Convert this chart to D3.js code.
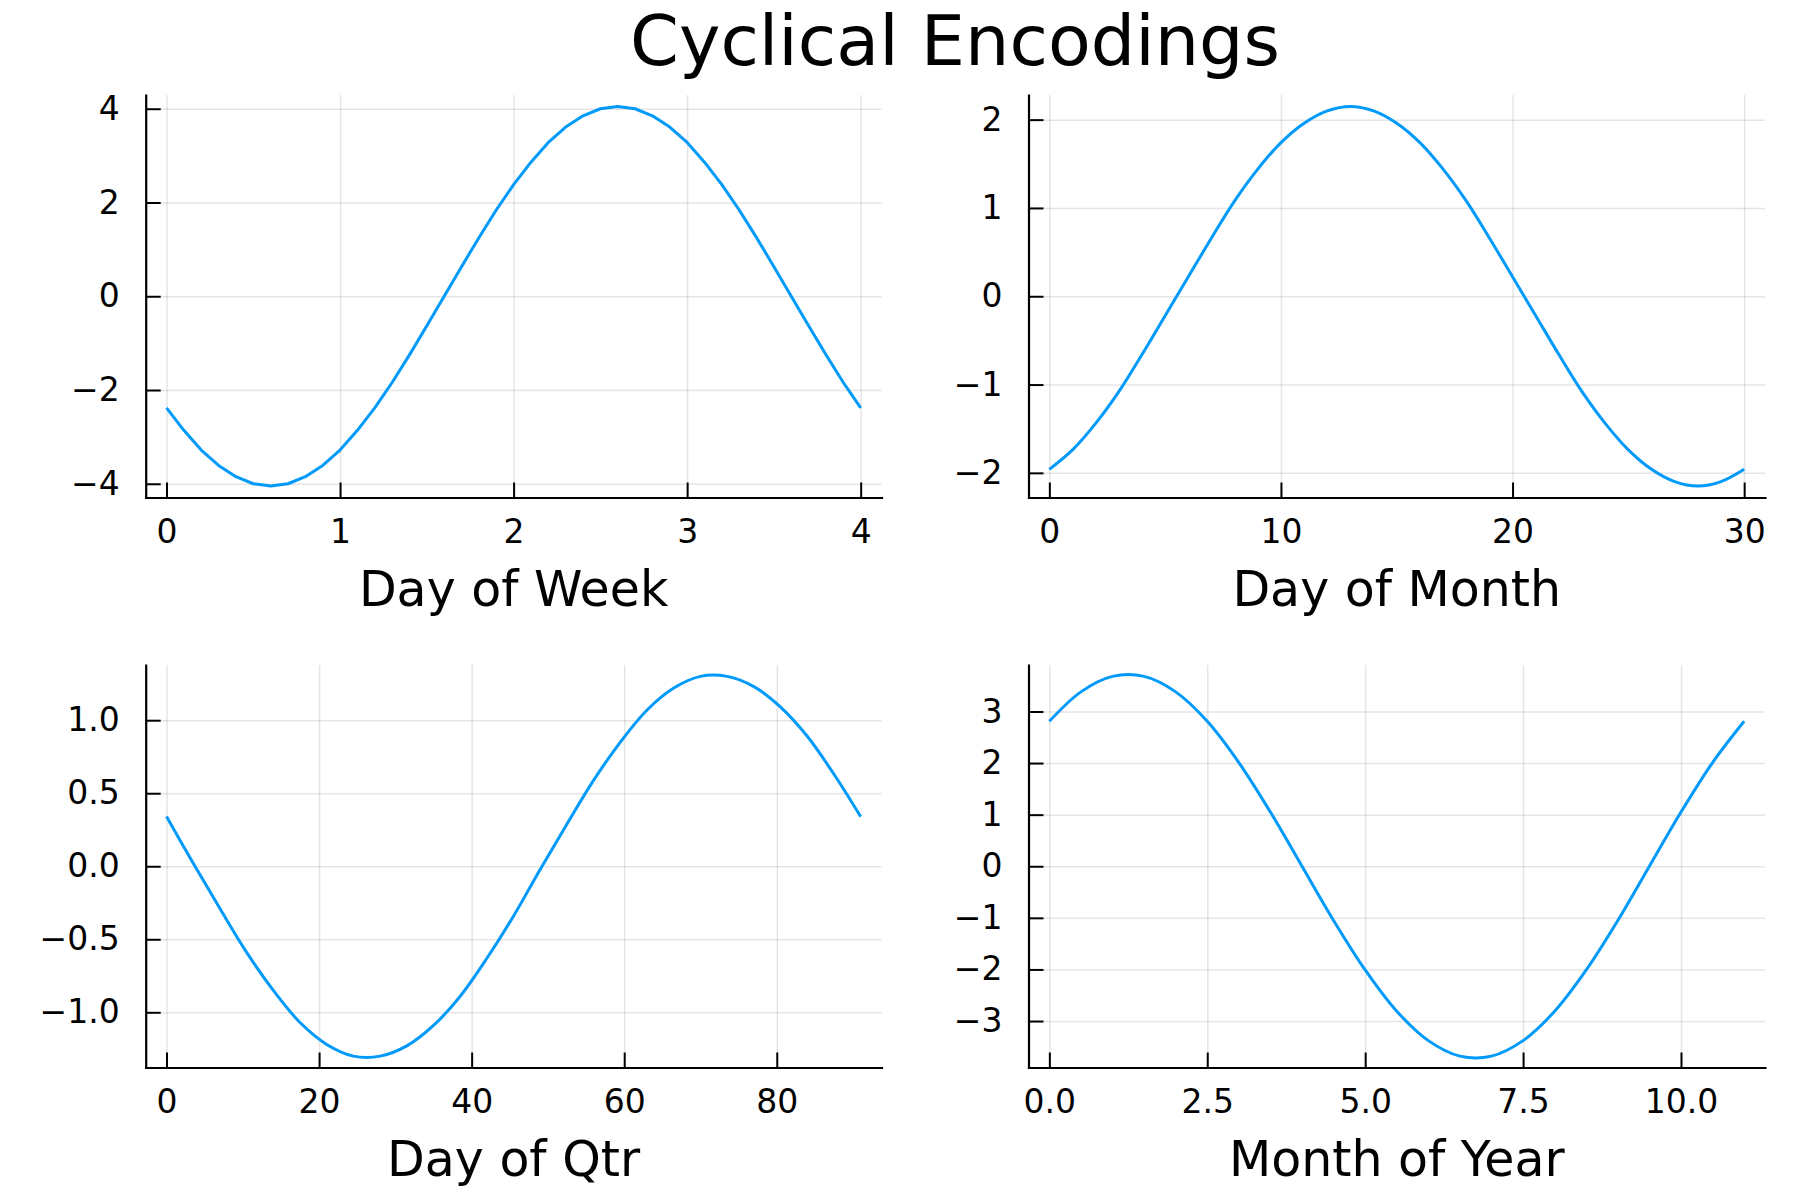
<!DOCTYPE html>
<html>
<head>
<meta charset="utf-8">
<script src="https://cdn.jsdelivr.net/npm/d3@7"></script>
<style>
  body { margin: 0; background: #fff; }
  text { font-family: "DejaVu Sans", sans-serif; fill: #000; }
</style>
</head>
<body>
<svg id="chart"></svg>
<script>
// values
const weekX = [0, 0.1, 0.2, 0.3, 0.4, 0.5, 0.6, 0.7, 0.8, 0.9, 1.0, 1.1, 1.2, 1.3, 1.4, 1.5, 1.6, 1.7, 1.8, 1.9, 2.0,
  2.1, 2.2, 2.3, 2.4, 2.5, 2.6, 2.7, 2.8, 2.9, 3.0, 3.1, 3.2, 3.3, 3.4, 3.5, 3.6, 3.7, 3.8, 3.9, 4.0];
const weekY = [-2.38, -2.86, -3.28, -3.61, -3.85, -4.00, -4.05, -4.00, -3.85, -3.61, -3.28, -2.86, -2.38, -1.84, -1.25, -0.63, 0,
  0.63, 1.25, 1.84, 2.38, 2.86, 3.28, 3.61, 3.85, 4.00, 4.05, 4.00, 3.85, 3.61, 3.28, 2.86, 2.38, 1.84, 1.25, 0.63, 0,
  -0.63, -1.25, -1.84, -2.38];

const monthX = [0, 1, 2, 3, 4, 5, 6, 7, 8, 9, 10, 11, 12, 13, 14, 15, 16, 17, 18, 19, 20, 21, 22, 23, 24, 25, 26, 27, 28, 29, 30];
const monthY = [-1.96, -1.74, -1.44, -1.08, -0.66, -0.22, 0.22, 0.66, 1.08, 1.44, 1.74, 1.96, 2.10, 2.15, 2.10, 1.96,
  1.74, 1.44, 1.08, 0.66, 0.22, -0.22, -0.66, -1.08, -1.44, -1.74, -1.96, -2.10, -2.15, -2.10, -1.96];

const qtrX = [0, 3.5, 7, 10.5, 14, 17.5, 21, 24.5, 28, 31.5, 35, 38.5, 42, 45.5, 49, 52.5, 56, 59.5, 63, 66.5, 70,
  73.5, 77, 80.5, 84, 87.5, 91];
const qtrY = [0.34, 0.02, -0.29, -0.59, -0.85, -1.07, -1.22, -1.30, -1.30, -1.23, -1.09, -0.89, -0.63, -0.34, -0.02,
  0.29, 0.59, 0.85, 1.07, 1.22, 1.30, 1.30, 1.23, 1.09, 0.89, 0.63, 0.34];

const yearX = [0, 0.5, 1, 1.5, 2, 2.5, 3, 3.5, 4, 4.5, 5, 5.5, 6, 6.5, 7, 7.5, 8, 8.5, 9, 9.5, 10, 10.5, 11];
const yearY = [2.81, 3.38, 3.68, 3.68, 3.38, 2.81, 2.01, 1.05, 0, -1.05, -2.01, -2.81, -3.38, -3.68, -3.68, -3.38,
  -2.81, -2.01, -1.05, 0, 1.05, 2.01, 2.81];

const weekXTicks = [0, 1, 2, 3, 4];
const weekYTicks = [-4, -2, 0, 2, 4];
const monthXTicks = [0, 10, 20, 30];
const monthYTicks = [-2, -1, 0, 1, 2];
const qtrXTicks = [0, 20, 40, 60, 80];
const qtrYTicks = [-1, -0.5, 0, 0.5, 1];
const yearXTicks = [0, 2.5, 5, 7.5, 10];
const yearYTicks = [-3, -2, -1, 0, 1, 2, 3];

const title = 'Cyclical Encodings';

const W = 1800, H = 1200;
const lineColor = '#009AFA';

const svg = d3.select('#chart')
  .attr('width', W)
  .attr('height', H)
  .attr('viewBox', `0 0 ${W} ${H}`);

svg.append('text')
  .attr('x', 955)
  .attr('y', 65)
  .attr('text-anchor', 'middle')
  .attr('font-size', 70)
  .text(title);

// plot areas in the 2x2 grid
const cols = [[145.7, 881.5], [1028.5, 1765]];
const rows = [[95, 497.5], [665, 1067.5]];

const panels = [
  { xs: weekX, ys: weekY, xTicks: weekXTicks, yTicks: weekYTicks, xFmt: d3.format('d'), yFmt: d3.format('d'),
    label: 'Day of Week', col: 0, row: 0, curve: d3.curveLinear },
  { xs: monthX, ys: monthY, xTicks: monthXTicks, yTicks: monthYTicks, xFmt: d3.format('d'), yFmt: d3.format('d'),
    label: 'Day of Month', col: 1, row: 0, curve: d3.curveCatmullRom },
  { xs: qtrX, ys: qtrY, xTicks: qtrXTicks, yTicks: qtrYTicks, xFmt: d3.format('d'), yFmt: d3.format('.1f'),
    label: 'Day of Qtr', col: 0, row: 1, curve: d3.curveCatmullRom },
  { xs: yearX, ys: yearY, xTicks: yearXTicks, yTicks: yearYTicks, xFmt: d3.format('.1f'), yFmt: d3.format('d'),
    label: 'Month of Year', col: 1, row: 1, curve: d3.curveCatmullRom }
];

// same 3% padding as the original limits
function padded(vals) {
  const [lo, hi] = d3.extent(vals);
  const pad = (hi - lo) * 0.03;
  return [lo - pad, hi + pad];
}

function drawPanel(p) {
  const [left, right] = cols[p.col];
  const [top, bottom] = rows[p.row];
  const x = d3.scaleLinear().domain(padded(p.xs)).range([left, right]);
  const y = d3.scaleLinear().domain(padded(p.ys)).range([bottom, top]);
  const g = svg.append('g');

  // grid
  const gx = g.append('g')
    .attr('transform', `translate(0,${bottom})`)
    .call(d3.axisBottom(x).tickValues(p.xTicks).tickSize(-(bottom - top)).tickFormat(''));
  const gy = g.append('g')
    .attr('transform', `translate(${left},0)`)
    .call(d3.axisLeft(y).tickValues(p.yTicks).tickSize(-(right - left)).tickFormat(''));
  [gx, gy].forEach(a => {
    a.select('.domain').remove();
    a.selectAll('line').attr('stroke', '#000').attr('stroke-opacity', 0.1).attr('stroke-width', 1.5);
  });

  // series
  const line = d3.line()
    .x((d, i) => x(p.xs[i]))
    .y(d => y(d))
    .curve(p.curve);
  g.append('path')
    .datum(p.ys)
    .attr('d', line)
    .attr('fill', 'none')
    .attr('stroke', lineColor)
    .attr('stroke-width', 3)
    .attr('stroke-linejoin', 'round');

  // axes with inward ticks
  const ax = g.append('g')
    .attr('transform', `translate(0,${bottom})`)
    .call(d3.axisBottom(x).tickValues(p.xTicks).tickFormat(p.xFmt)
      .tickSizeInner(-15).tickSizeOuter(0).tickPadding(22.5));
  const ay = g.append('g')
    .attr('transform', `translate(${left},0)`)
    .call(d3.axisLeft(y).tickValues(p.yTicks).tickFormat(p.yFmt)
      .tickSizeInner(-15).tickSizeOuter(0).tickPadding(26));
  [ax, ay].forEach(a => {
    a.select('.domain').attr('stroke', '#000').attr('stroke-width', 2.2).attr('stroke-linecap', 'square');
    a.selectAll('.tick line').attr('stroke', '#000').attr('stroke-width', 2);
    a.selectAll('.tick text')
      .attr('font-size', 33)
      .attr('font-family', '"DejaVu Sans", sans-serif')
      .attr('fill', '#000');
  });

  g.append('text')
    .attr('x', (left + right) / 2)
    .attr('y', bottom + 108)
    .attr('text-anchor', 'middle')
    .attr('font-size', 49)
    .text(p.label);
}

panels.forEach(drawPanel);
</script>
</body>
</html>
